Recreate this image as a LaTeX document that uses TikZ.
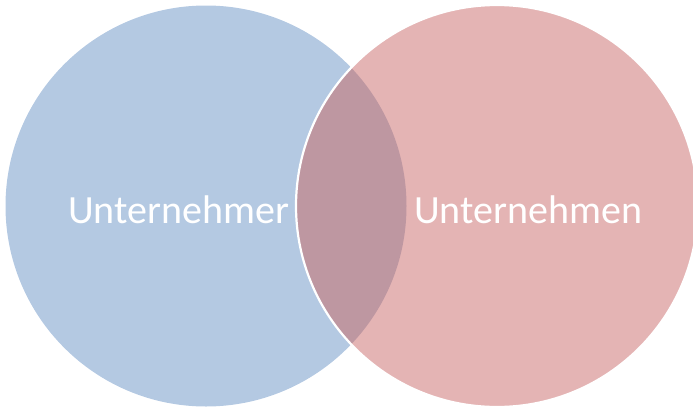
\documentclass[tikz,border=0pt]{standalone}
\usepackage{fontspec}
\setmainfont{Carlito}
\definecolor{lblue}{RGB}{180,201,226}
\definecolor{lpink}{RGB}{228,180,180}
\definecolor{lover}{RGB}{190,151,161}
\begin{document}
\begin{tikzpicture}[x=1pt,y=-1pt,
  lbl/.style={text=white,font=\fontsize{40}{48}\selectfont,inner sep=0pt,anchor=base}]
\useasboundingbox (0,0) rectangle (693,410);
\fill[lblue] (206,206) circle (200.5);
\fill[lpink] (497,206) circle (201);
\begin{scope}
  \clip (206,206) circle (200.5);
  \fill[lover] (497,206) circle (201);
\end{scope}
\draw[white,line width=2.2pt] (497,206) circle (201);
\node[lbl] (a) at (178.5,223) {Unternehmer};
\node[lbl] (b) at (528,223) {Unternehmen};
\end{tikzpicture}
\end{document}
